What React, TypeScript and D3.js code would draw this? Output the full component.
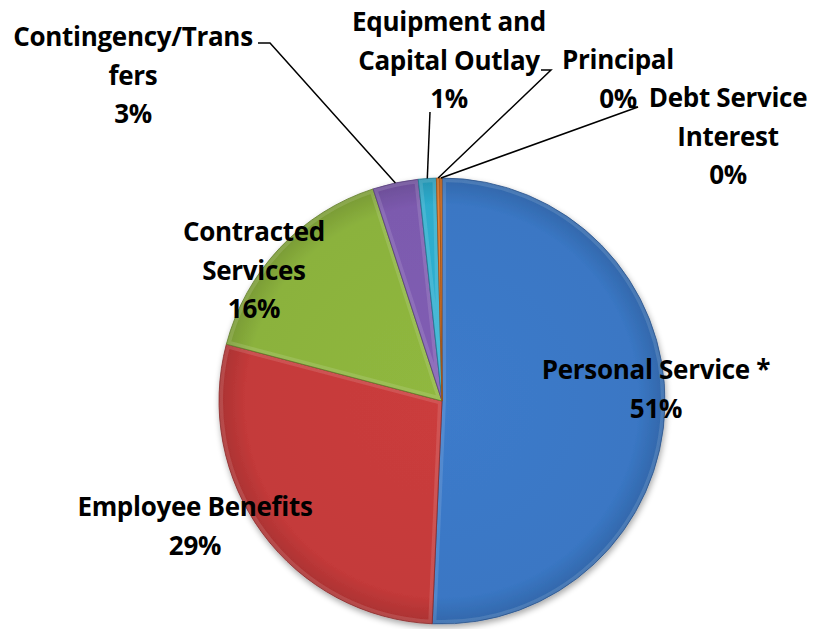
import React, { useEffect, useRef } from 'react';
import * as d3 from 'd3';

// Slices clockwise from 12 o'clock
const categories = [
  'Personal Service *',
  'Employee Benefits',
  'Contracted Services',
  'Contingency/Transfers',
  'Equipment and Capital Outlay',
  'Principal',
  'Debt Service Interest',
];
const values = [50.7, 28.4, 15.9, 3.3, 1.3, 0.25, 0.15];
const percentLabels = ['51%', '29%', '16%', '3%', '1%', '0%', '0%'];
const colors = ['#3a77c4', '#c43a3a', '#8bb23d', '#7c5aae', '#2daccd', '#e0731f', '#e0731f'];

// label text lines as they wrap in the original
const labelLines = [
  ['Personal Service *', percentLabels[0]],
  ['Employee Benefits', percentLabels[1]],
  ['Contracted', 'Services', percentLabels[2]],
  ['Contingency/Trans', 'fers', percentLabels[3]],
  ['Equipment and', 'Capital Outlay', percentLabels[4]],
  ['Principal', percentLabels[5]],
  ['Debt Service', 'Interest', percentLabels[6]],
];

const App = () => {
  const svgRef = useRef(null);

  useEffect(() => {
    const svg = d3.select(svgRef.current);
    svg.selectAll('*').remove();

    const cx = 442;
    const cy = 401;
    const radius = 223;

    const data = categories.map((c, i) => ({ name: c, value: values[i], i }));

    const pie = d3.pie().sort(null).value(d => d.value);
    const arcs = pie(data);
    const arc = d3.arc().innerRadius(0).outerRadius(radius);

    const defs = svg.append('defs');

    // soft shadow under the pie
    const shadow = defs.append('filter').attr('id', 'shadow').attr('x', '-10%').attr('y', '-10%').attr('width', '120%').attr('height', '120%');
    shadow.append('feGaussianBlur').attr('in', 'SourceAlpha').attr('stdDeviation', 3);
    shadow.append('feOffset').attr('dx', 1).attr('dy', 3).attr('result', 'off');
    shadow.append('feComponentTransfer').append('feFuncA').attr('type', 'linear').attr('slope', 0.35);
    const merge = shadow.append('feMerge');
    merge.append('feMergeNode');
    merge.append('feMergeNode').attr('in', 'SourceGraphic');

    colors.forEach((c, i) => {
      const g = defs.append('radialGradient')
        .attr('id', `grad${i}`)
        .attr('gradientUnits', 'userSpaceOnUse')
        .attr('cx', 0).attr('cy', 0).attr('r', radius);
      g.append('stop').attr('offset', '0%').attr('stop-color', d3.color(c).brighter(0.1));
      g.append('stop').attr('offset', '88%').attr('stop-color', c);
      g.append('stop').attr('offset', '100%').attr('stop-color', d3.color(c).darker(0.4));
      defs.append('clipPath').attr('id', `clip${i}`)
        .append('path').attr('d', arc(arcs[i]));
    });

    const pieG = svg.append('g')
      .attr('transform', `translate(${cx},${cy})`)
      .attr('filter', 'url(#shadow)');

    const slices = pieG.selectAll('g.slice')
      .data(arcs)
      .join('g')
      .attr('class', 'slice');

    slices.append('path')
      .attr('d', arc)
      .attr('fill', (d, i) => `url(#grad${i})`);

    // bevel highlight along slice edges
    slices.append('path')
      .attr('d', arc)
      .attr('fill', 'none')
      .attr('stroke', '#ffffff')
      .attr('stroke-opacity', 0.12)
      .attr('stroke-width', 8)
      .attr('clip-path', (d, i) => `url(#clip${i})`);

    slices.append('path')
      .attr('d', arc)
      .attr('fill', 'none')
      .attr('stroke', (d, i) => d3.color(colors[i]).darker(1))
      .attr('stroke-width', 1)
      .attr('stroke-opacity', 0.8);

    // label block positions (centre x, first line baseline y)
    const labelPos = [
      [656, 379],
      [195, 516],
      [254, 241],
      [133, 46],
      [449, 31],
      [618, 69],
      [728, 107],
    ];
    const lineH = 38.5;

    const labels = svg.append('g')
      .style('font-family', '"Open Sans", "Noto Sans", sans-serif')
      .style('font-weight', 'bold')
      .style('font-size', '26px')
      .style('letter-spacing', '-0.3px')
      .attr('fill', '#000');

    labelLines.forEach((lines, i) => {
      const [x, y] = labelPos[i];
      const t = labels.append('text').attr('text-anchor', 'middle');
      lines.forEach((ln, k) => {
        t.append('tspan').attr('x', x).attr('y', y + k * lineH).text(ln);
      });
    });

    // leader lines for the small slices
    const leader = (i, pts) => {
      const mid = (arcs[i].startAngle + arcs[i].endAngle) / 2;
      const ex = cx + Math.sin(mid) * radius;
      const ey = cy - Math.cos(mid) * radius;
      svg.append('path')
        .attr('d', d3.line()([...pts, [ex, ey]]))
        .attr('fill', 'none')
        .attr('stroke', '#000')
        .attr('stroke-width', 1.5);
    };
    leader(3, [[258, 43], [270, 43]]);
    leader(4, [[430, 112]]);
    leader(5, [[541, 70], [551, 70]]);
    leader(6, [[629, 107], [638, 107]]);
  }, []);

  return (
    <svg
      ref={svgRef}
      width={817}
      height={629}
      style={{ position: 'absolute', left: 0, top: 0, background: '#fff' }}
    ></svg>
  );
};

export default App;
